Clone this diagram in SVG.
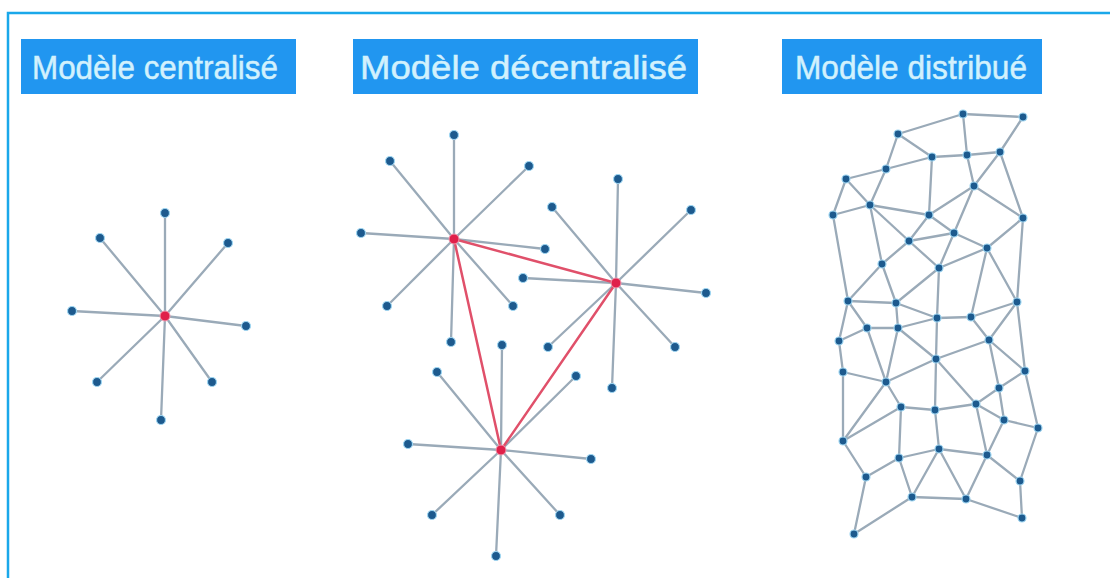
<svg xmlns="http://www.w3.org/2000/svg" width="1110" height="578" viewBox="0 0 1110 578">
<style>
.lbl rect{fill:#2196f0}
.lbl text{fill:#d2f1fd;stroke:#d2f1fd;stroke-width:0.5;font-family:"Liberation Sans",Arial,sans-serif;font-size:33px}
.e line{stroke:#9aaab8;stroke-width:2.3;stroke-linecap:round}
.r line{stroke:#e0506a;stroke-width:2.5;stroke-linecap:round}
.n circle{fill:#1d5a8e;stroke:#9fd6f2;stroke-width:1.2}
.hub circle{fill:#e0204a;stroke:#f29ab0;stroke-width:1}
</style>
<rect x="0" y="0" width="1110" height="578" fill="#ffffff"/>
<path d="M8 578 V13 H1110" fill="none" stroke="#1aa8ea" stroke-width="2.5"/>
<g id="label-centralise" class="lbl"><rect x="21" y="39" width="275" height="55"/><text x="32" y="79" textLength="246" lengthAdjust="spacingAndGlyphs">Modèle centralisé</text></g>
<g id="label-decentralise" class="lbl"><rect x="353" y="39" width="345" height="55"/><text x="360" y="79" textLength="327" lengthAdjust="spacingAndGlyphs">Modèle décentralisé</text></g>
<g id="label-distribue" class="lbl"><rect x="782" y="39" width="260" height="55"/><text x="795" y="79" textLength="232" lengthAdjust="spacingAndGlyphs">Modèle distribué</text></g>
<g id="connectors">
<g class="e">
<line x1="165" y1="316" x2="165" y2="213"/><line x1="165" y1="316" x2="100" y2="238"/><line x1="165" y1="316" x2="228" y2="243"/><line x1="165" y1="316" x2="72" y2="311"/><line x1="165" y1="316" x2="246" y2="326"/><line x1="165" y1="316" x2="97" y2="382"/><line x1="165" y1="316" x2="212" y2="382"/><line x1="165" y1="316" x2="161" y2="420"/>
<line x1="454" y1="239" x2="454" y2="135"/><line x1="454" y1="239" x2="390" y2="161"/><line x1="454" y1="239" x2="529" y2="166"/><line x1="454" y1="239" x2="361" y2="233"/><line x1="454" y1="239" x2="545" y2="249"/><line x1="454" y1="239" x2="387" y2="306"/><line x1="454" y1="239" x2="513" y2="306"/><line x1="454" y1="239" x2="451" y2="342"/>
<line x1="616" y1="283" x2="618" y2="179"/><line x1="616" y1="283" x2="552" y2="207"/><line x1="616" y1="283" x2="691" y2="210"/><line x1="616" y1="283" x2="523" y2="278"/><line x1="616" y1="283" x2="706" y2="293"/><line x1="616" y1="283" x2="548" y2="347"/><line x1="616" y1="283" x2="675" y2="347"/><line x1="616" y1="283" x2="612" y2="388"/>
<line x1="501" y1="450" x2="502" y2="345"/><line x1="501" y1="450" x2="437" y2="372"/><line x1="501" y1="450" x2="576" y2="376"/><line x1="501" y1="450" x2="408" y2="444"/><line x1="501" y1="450" x2="591" y2="459"/><line x1="501" y1="450" x2="432" y2="515"/><line x1="501" y1="450" x2="560" y2="515"/><line x1="501" y1="450" x2="496" y2="556"/>
<line x1="963" y1="114" x2="1023" y2="117"/><line x1="963" y1="114" x2="898" y2="134"/><line x1="963" y1="114" x2="967" y2="155"/><line x1="1023" y1="117" x2="1000" y2="152"/><line x1="898" y1="134" x2="932" y2="157"/><line x1="898" y1="134" x2="886" y2="169"/><line x1="932" y1="157" x2="967" y2="155"/><line x1="967" y1="155" x2="1000" y2="152"/><line x1="846" y1="179" x2="886" y2="169"/><line x1="886" y1="169" x2="932" y2="157"/><line x1="967" y1="155" x2="974" y2="186"/><line x1="1000" y1="152" x2="974" y2="186"/><line x1="1000" y1="152" x2="1023" y2="218"/><line x1="932" y1="157" x2="929" y2="215"/><line x1="846" y1="179" x2="833" y2="215"/><line x1="846" y1="179" x2="870" y2="205"/><line x1="886" y1="169" x2="870" y2="205"/><line x1="833" y1="215" x2="870" y2="205"/><line x1="870" y1="205" x2="929" y2="215"/><line x1="974" y1="186" x2="929" y2="215"/><line x1="974" y1="186" x2="1023" y2="218"/><line x1="974" y1="186" x2="954" y2="233"/><line x1="870" y1="205" x2="909" y2="241"/><line x1="929" y1="215" x2="909" y2="241"/><line x1="929" y1="215" x2="954" y2="233"/><line x1="909" y1="241" x2="954" y2="233"/><line x1="954" y1="233" x2="987" y2="248"/><line x1="954" y1="233" x2="939" y2="268"/><line x1="909" y1="241" x2="882" y2="264"/><line x1="909" y1="241" x2="939" y2="268"/><line x1="987" y1="248" x2="939" y2="268"/><line x1="987" y1="248" x2="1023" y2="218"/><line x1="870" y1="205" x2="882" y2="264"/><line x1="833" y1="215" x2="848" y2="301"/><line x1="1023" y1="218" x2="1017" y2="302"/><line x1="987" y1="248" x2="1017" y2="302"/><line x1="987" y1="248" x2="971" y2="317"/><line x1="882" y1="264" x2="896" y2="303"/><line x1="882" y1="264" x2="848" y2="301"/><line x1="939" y1="268" x2="896" y2="303"/><line x1="939" y1="268" x2="937" y2="318"/>
<line x1="848" y1="301" x2="896" y2="303"/><line x1="848" y1="301" x2="867" y2="328"/><line x1="848" y1="301" x2="839" y2="341"/><line x1="896" y1="303" x2="898" y2="328"/><line x1="896" y1="303" x2="937" y2="318"/><line x1="937" y1="318" x2="971" y2="317"/><line x1="937" y1="318" x2="898" y2="328"/><line x1="937" y1="318" x2="936" y2="359"/><line x1="971" y1="317" x2="989" y2="340"/><line x1="1017" y1="302" x2="971" y2="317"/><line x1="1017" y1="302" x2="989" y2="340"/><line x1="1017" y1="302" x2="1025" y2="371"/><line x1="867" y1="328" x2="898" y2="328"/><line x1="867" y1="328" x2="839" y2="341"/><line x1="867" y1="328" x2="886" y2="382"/><line x1="898" y1="328" x2="936" y2="359"/><line x1="898" y1="328" x2="886" y2="382"/><line x1="839" y1="341" x2="843" y2="372"/><line x1="989" y1="340" x2="936" y2="359"/><line x1="989" y1="340" x2="1025" y2="371"/><line x1="989" y1="340" x2="999" y2="388"/><line x1="936" y1="359" x2="886" y2="382"/><line x1="936" y1="359" x2="935" y2="410"/><line x1="936" y1="359" x2="976" y2="404"/><line x1="843" y1="372" x2="886" y2="382"/><line x1="843" y1="372" x2="843" y2="441"/><line x1="1025" y1="371" x2="999" y2="388"/><line x1="1025" y1="371" x2="1038" y2="428"/><line x1="886" y1="382" x2="901" y2="407"/><line x1="886" y1="382" x2="843" y2="441"/><line x1="901" y1="407" x2="935" y2="410"/><line x1="935" y1="410" x2="976" y2="404"/><line x1="999" y1="388" x2="976" y2="404"/><line x1="999" y1="388" x2="1004" y2="420"/><line x1="976" y1="404" x2="1004" y2="420"/><line x1="1004" y1="420" x2="1038" y2="428"/><line x1="976" y1="404" x2="987" y2="455"/><line x1="1004" y1="420" x2="987" y2="455"/><line x1="901" y1="407" x2="899" y2="458"/><line x1="935" y1="410" x2="939" y2="449"/>
<line x1="939" y1="449" x2="899" y2="458"/><line x1="939" y1="449" x2="987" y2="455"/><line x1="939" y1="449" x2="912" y2="497"/><line x1="939" y1="449" x2="966" y2="499"/><line x1="899" y1="458" x2="866" y2="477"/><line x1="899" y1="458" x2="912" y2="497"/><line x1="843" y1="441" x2="866" y2="477"/><line x1="843" y1="441" x2="901" y2="407"/><line x1="866" y1="477" x2="854" y2="534"/><line x1="854" y1="534" x2="912" y2="497"/><line x1="912" y1="497" x2="966" y2="499"/><line x1="966" y1="499" x2="987" y2="455"/><line x1="966" y1="499" x2="1022" y2="518"/><line x1="987" y1="455" x2="1020" y2="481"/><line x1="1038" y1="428" x2="1020" y2="481"/><line x1="1020" y1="481" x2="1022" y2="518"/>
</g>
<g class="r">
<line x1="454" y1="239" x2="616" y2="283"/><line x1="454" y1="239" x2="501" y2="450"/><line x1="616" y1="283" x2="501" y2="450"/>
</g>
</g>
<g id="central" class="n">
<circle cx="165" cy="213" r="4.5"/><circle cx="100" cy="238" r="4.5"/><circle cx="228" cy="243" r="4.5"/><circle cx="72" cy="311" r="4.5"/><circle cx="246" cy="326" r="4.5"/><circle cx="97" cy="382" r="4.5"/><circle cx="212" cy="382" r="4.5"/><circle cx="161" cy="420" r="4.5"/>
</g>
<g id="central-hub" class="hub"><circle cx="165" cy="316" r="5"/></g>
<g id="decentral-leaves" class="n">
<circle cx="454" cy="135" r="4.5"/><circle cx="390" cy="161" r="4.5"/><circle cx="529" cy="166" r="4.5"/><circle cx="361" cy="233" r="4.5"/><circle cx="545" cy="249" r="4.5"/><circle cx="387" cy="306" r="4.5"/><circle cx="513" cy="306" r="4.5"/><circle cx="451" cy="342" r="4.5"/>
<circle cx="618" cy="179" r="4.5"/><circle cx="552" cy="207" r="4.5"/><circle cx="691" cy="210" r="4.5"/><circle cx="523" cy="278" r="4.5"/><circle cx="706" cy="293" r="4.5"/><circle cx="548" cy="347" r="4.5"/><circle cx="675" cy="347" r="4.5"/><circle cx="612" cy="388" r="4.5"/>
<circle cx="502" cy="345" r="4.5"/><circle cx="437" cy="372" r="4.5"/><circle cx="576" cy="376" r="4.5"/><circle cx="408" cy="444" r="4.5"/><circle cx="591" cy="459" r="4.5"/><circle cx="432" cy="515" r="4.5"/><circle cx="560" cy="515" r="4.5"/><circle cx="496" cy="556" r="4.5"/>
</g>
<g id="hub-a" class="hub"><circle cx="454" cy="239" r="5"/></g>
<g id="hub-b" class="hub"><circle cx="616" cy="283" r="5"/></g>
<g id="hub-c" class="hub"><circle cx="501" cy="450" r="5"/></g>
<g id="mesh" class="n">
<circle cx="963" cy="114" r="4"/><circle cx="1023" cy="117" r="4"/><circle cx="898" cy="134" r="4"/><circle cx="932" cy="157" r="4"/><circle cx="967" cy="155" r="4"/><circle cx="1000" cy="152" r="4"/><circle cx="886" cy="169" r="4"/><circle cx="846" cy="179" r="4"/><circle cx="974" cy="186" r="4"/><circle cx="870" cy="205" r="4"/><circle cx="833" cy="215" r="4"/><circle cx="929" cy="215" r="4"/><circle cx="1023" cy="218" r="4"/><circle cx="954" cy="233" r="4"/><circle cx="909" cy="241" r="4"/><circle cx="987" cy="248" r="4"/><circle cx="882" cy="264" r="4"/><circle cx="939" cy="268" r="4"/>
<circle cx="848" cy="301" r="4"/><circle cx="896" cy="303" r="4"/><circle cx="1017" cy="302" r="4"/><circle cx="937" cy="318" r="4"/><circle cx="971" cy="317" r="4"/><circle cx="867" cy="328" r="4"/><circle cx="898" cy="328" r="4"/><circle cx="839" cy="341" r="4"/><circle cx="989" cy="340" r="4"/><circle cx="936" cy="359" r="4"/><circle cx="843" cy="372" r="4"/><circle cx="1025" cy="371" r="4"/><circle cx="886" cy="382" r="4"/><circle cx="999" cy="388" r="4"/><circle cx="901" cy="407" r="4"/><circle cx="935" cy="410" r="4"/><circle cx="976" cy="404" r="4"/><circle cx="1004" cy="420" r="4"/>
<circle cx="1038" cy="428" r="4"/><circle cx="843" cy="441" r="4"/><circle cx="939" cy="449" r="4"/><circle cx="899" cy="458" r="4"/><circle cx="987" cy="455" r="4"/><circle cx="866" cy="477" r="4"/><circle cx="1020" cy="481" r="4"/><circle cx="912" cy="497" r="4"/><circle cx="966" cy="499" r="4"/><circle cx="1022" cy="518" r="4"/><circle cx="854" cy="534" r="4"/>
</g>
</svg>
